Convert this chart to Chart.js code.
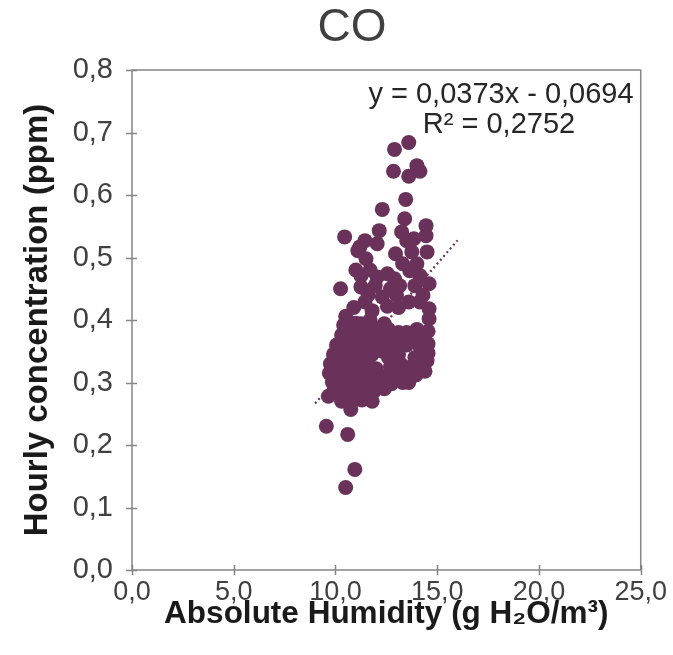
<!DOCTYPE html>
<html><head><meta charset="utf-8">
<script src="https://cdn.jsdelivr.net/npm/chart.js@4/dist/chart.umd.min.js"></script>
<style>html,body{margin:0;padding:0;background:#fff}</style>
</head><body>
<canvas id="c" width="673" height="655"></canvas>
<script>
// ---- data ----
const humidity = [
  13.6,12.9,12.85,14.0,14.15,13.6,13.45,12.3,10.45,13.4,13.25,14.45,14.45,13.85,12.15,12.05,11.2,11.45,13.5,
  11.1,11.5,12.95,13.75,14.5,13.65,14.15,14.6,11.25,12.05,12.55,12.9,10.25,11.25,11.95,13.15,
  11.45,12.55,13.6,14.15,14.6,14.6,10.5,11.25,12.4,12.3,13.0,
  9.55,10.6,10.95,10.5,
  10.4,10.9,11.5,12.0,12.6,13.1,
  10.3,10.6,11.1,11.6,12.75,13.3,13.8,14.3,14.55,
  10.05,10.4,10.9,11.4,11.9,12.5,13.0,14.1,14.55,
  9.9,10.3,10.8,11.3,11.8,12.9,14.2,14.55,
  9.75,10.1,10.6,11.1,11.6,12.0,12.9,13.2,13.7,14.3,14.5,
  9.7,10.05,10.55,11.05,11.55,12.5,13.4,13.95,14.4,
  9.85,10.2,10.7,11.2,11.7,12.2,12.75,13.3,
  9.9,10.4,10.9,11.4,11.9,12.4,
  10.3,10.8,11.3,11.8,
  10.75,9.65,
  12.3,12.2,12.7,13.1,13.5,13.9,14.0,13.6,12.9,12.6,12.3,13.5,14.0,11.0,11.7,12.0,10.6,11.3,10.7,10.2,11.05,11.4,10.4,12.05,11.3,10.35,
  11.6,11.0,11.7,13.3,14.0,13.9,14.3,13.1,12.7,11.8,10.9
];
const concentration = [
  0.684,0.673,0.638,0.647,0.638,0.630,0.593,0.577,0.533,0.562,0.541,0.551,0.535,0.530,0.543,0.522,0.517,0.527,0.527,
  0.511,0.498,0.506,0.509,0.509,0.479,0.471,0.458,0.471,0.469,0.474,0.466,0.450,0.453,0.455,0.455,
  0.429,0.422,0.429,0.429,0.418,0.402,0.406,0.394,0.394,0.437,0.440,
  0.230,0.217,0.161,0.132,
  0.392,0.388,0.392,0.386,0.385,0.380,
  0.376,0.372,0.378,0.374,0.372,0.368,0.374,0.378,0.382,
  0.360,0.357,0.362,0.358,0.360,0.355,0.360,0.360,0.362,
  0.345,0.342,0.347,0.343,0.345,0.338,0.345,0.347,
  0.330,0.327,0.332,0.328,0.331,0.322,0.318,0.330,0.325,0.330,0.335,
  0.315,0.312,0.318,0.313,0.316,0.308,0.310,0.312,0.318,
  0.300,0.297,0.302,0.298,0.300,0.295,0.298,0.300,
  0.285,0.282,0.287,0.283,0.286,0.290,
  0.270,0.268,0.272,0.270,
  0.257,0.278,
  0.350,0.310,0.325,0.345,0.360,0.340,0.320,0.300,0.305,0.340,0.365,0.380,0.385,0.395,0.400,0.375,0.390,0.365,0.360,0.345,0.345,0.300,0.310,0.310,0.330,0.360,
  0.440,0.480,0.480,0.490,0.490,0.455,0.440,0.420,0.450,0.415,0.420
];
const xTickValues = [0, 5, 10, 15, 20, 25];
const yTickValues = [0, 0.1, 0.2, 0.3, 0.4, 0.5, 0.6, 0.7, 0.8];
const trendSlope = 0.0373;
const trendIntercept = -0.0694;
const trendRange = [9, 16];
const chartTitle = 'CO';
const xTitle = 'Absolute Humidity (g H\u2082O/m\u00B3)';
const yTitle = 'Hourly concentration (ppm)';
const eqLine1 = 'y = 0,0373x - 0,0694';
const eqLine2 = 'R\u00B2 = 0,2752';

// ---- build ----
const PURPLE = '#6A325A';
const FONT = "'Liberation Sans', Arial, sans-serif";
const points = humidity.map((x, i) => ({x, y: concentration[i]}));
const trend = trendRange.map(x => ({x, y: trendSlope * x + trendIntercept}));
const fmt = v => Number(v).toFixed(1).replace('.', ',');

const decor = {
  id: 'decor',
  beforeDatasetsDraw(chart) {
    const {ctx, chartArea: a, scales: {x, y}} = chart;
    ctx.save();
    ctx.strokeStyle = '#858585';
    ctx.lineWidth = 1.5;
    ctx.strokeRect(a.left, a.top, a.right - a.left, a.bottom - a.top);
    ctx.beginPath();
    yTickValues.forEach(v => {
      const p = Math.round(y.getPixelForValue(v)) + 0.5;
      ctx.moveTo(a.left - 6, p); ctx.lineTo(a.left + 5, p);
    });
    xTickValues.forEach(v => {
      const p = Math.round(x.getPixelForValue(v)) + 0.5;
      ctx.moveTo(p, a.bottom - 5); ctx.lineTo(p, a.bottom + 5);
    });
    ctx.stroke();
    ctx.restore();
  },
  afterDraw(chart) {
    const {ctx} = chart;
    ctx.save();
    ctx.fillStyle = '#404040';
    ctx.textAlign = 'center';
    ctx.textBaseline = 'middle';
    ctx.font = '46px ' + FONT;
    ctx.fillText(chartTitle, 352, 28);
    ctx.fillStyle = '#262626';
    ctx.font = '29px ' + FONT;
    ctx.fillText(eqLine1, 501, 95);
    ctx.fillText(eqLine2, 499, 125);
    ctx.restore();
  }
};

new Chart(document.getElementById('c'), {
  data: {
    datasets: [
      {type: 'scatter', data: points, backgroundColor: PURPLE, borderWidth: 0, pointRadius: 7.5, pointHoverRadius: 7.5, order: 1},
      {type: 'line', data: trend, borderColor: PURPLE, borderWidth: 2.2, borderDash: [2, 3], pointRadius: 0, fill: false, order: 2}
    ]
  },
  options: {
    responsive: false,
    animation: false,
    devicePixelRatio: 1,
    layout: {padding: {top: 70, right: 27, left: 0, bottom: 0}},
    plugins: {legend: {display: false}, tooltip: {enabled: false}, title: {display: false}},
    scales: {
      x: {
        type: 'linear', min: 0, max: 25,
        afterBuildTicks: s => { s.ticks = xTickValues.map(v => ({value: v})); },
        ticks: {callback: fmt, font: {family: FONT, size: 27}, color: '#404040', padding: 6, maxRotation: 0},
        grid: {display: false, drawTicks: false},
        border: {display: false},
        title: {display: true, text: xTitle, font: {family: FONT, size: 31.5, weight: 'bold'}, color: '#1a1a1a', padding: {top: 0, bottom: 22}},
        afterFit: s => { s.height = 85; }
      },
      y: {
        type: 'linear', min: 0, max: 0.8,
        afterBuildTicks: s => { s.ticks = yTickValues.map(v => ({value: v})); },
        ticks: {callback: fmt, font: {family: FONT, size: 29}, color: '#404040', padding: 19},
        grid: {display: false, drawTicks: false},
        border: {display: false},
        title: {display: true, text: yTitle, font: {family: FONT, size: 33, weight: 'bold'}, color: '#1a1a1a', padding: {top: 18, bottom: 0}},
        afterFit: s => { s.width = 132; }
      }
    }
  },
  plugins: [decor]
});
</script>
</body></html>
